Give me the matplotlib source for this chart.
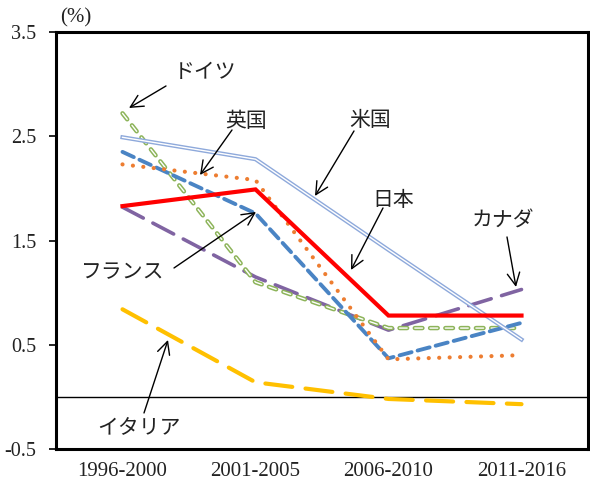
import matplotlib
matplotlib.use("Agg")
import matplotlib.pyplot as plt
import matplotlib.patheffects as pe

# data
periods = ["1996-2000", "2001-2005", "2006-2010", "2011-2016"]
japan = [1.83, 1.99, 0.78, 0.78]
usa = [2.49, 2.28, 1.41, 0.55]
uk = [2.23, 2.08, 0.36, 0.40]
germany = [2.72, 1.10, 0.66, 0.66]
france = [2.35, 1.76, 0.37, 0.71]
canada = [1.82, 1.15, 0.64, 1.03]
italy = [0.84, 0.14, -0.02, -0.07]
yticks = [-0.5, 0.5, 1.5, 2.5, 3.5]

JP = ["Noto Sans CJK JP", "DejaVu Sans"]
SERIF = ["Liberation Serif", "DejaVu Serif"]


def px(x, y):
    # pixel position in the 590x480 picture -> data coords
    return ((x - 56) / 133.0 - 0.5, (396.9 - y) / 104.25)


def main():
    fig = plt.figure(figsize=(5.9, 4.8), dpi=100)
    ax = fig.add_axes([56 / 590, 31 / 480, 532 / 590, 417 / 480])
    xs = list(range(len(periods)))

    ax.axhline(0, color="black", lw=1.0, zorder=1)

    # Italy - long yellow dashes
    ax.plot(xs, italy, color="#FFC000", lw=3.0, ls=(0, (6.5, 3.2)),
            dash_capstyle="round", zorder=2)
    # Canada - purple long dash
    ax.plot(xs, canada, color="#8064A2", lw=2.6, ls=(0, (6.5, 3.0)),
            dash_capstyle="round", zorder=3)
    # Germany - hollow green dashes
    ax.plot(xs, germany, color="white", lw=1.0, ls=(0, (5.5, 5.5)),
            dash_capstyle="round", zorder=4,
            path_effects=[pe.Stroke(linewidth=3.2, foreground="#8DB45A"),
                          pe.Normal()])
    # France - blue dashes
    ax.plot(xs, france, color="#4A84C4", lw=2.8, ls=(0, (3.2, 1.6)),
            dash_capstyle="round", zorder=5)
    # UK - orange dots
    ax.plot(xs, uk, color="#ED7D31", lw=3.0, ls=(0, (0.01, 2.5)),
            dash_capstyle="round", zorder=6)
    # USA - double line
    ax.plot(xs, usa, color="white", lw=1.0, zorder=7,
            path_effects=[pe.Stroke(linewidth=3.0, foreground="#8EA9DB"),
                          pe.Normal()])
    # Japan - solid red
    ax.plot(xs, japan, color="#FF0000", lw=3.0, solid_joinstyle="miter",
            zorder=8)

    ax.set_xlim(-0.5, 3.5)
    ax.set_ylim(-0.5, 3.5)
    ax.set_xticks(xs)
    ax.set_xticklabels(periods, fontsize=15, family=SERIF, color="#222222")
    ax.set_yticks(yticks)
    ax.set_yticklabels([str(v) for v in yticks], fontsize=14.5, family=SERIF,
                       color="#222222")
    ax.tick_params(axis="x", length=0, pad=9)
    ax.tick_params(axis="y", length=5, width=1.2, direction="out", pad=9)
    for s in ax.spines.values():
        s.set_linewidth(2.2)
        s.set_color("black")

    fig.text(60 / 590, 1 - 18 / 480, "(%)", fontsize=15, family=SERIF,
             color="#222222", va="center", ha="left")

    notes = [
        ("ドイツ", (205, 72), (166, 86), (129, 108)),
        ("英国", (246, 121), (232, 130), (200, 175)),
        ("米国", (370, 120), (354, 131), (315, 196)),
        ("日本", (393, 200), (383, 208), (351, 270)),
        ("カナダ", (503, 221), (507, 237), (516, 287)),
        ("フランス", (123, 272), (174, 268), (256, 212)),
        ("イタリア", (139, 428), (144, 413), (168, 340)),
    ]
    for label, tpos, tail, tip in notes:
        ax.text(*px(*tpos), label, fontsize=15, family=JP, color="#222222",
                ha="center", va="center", zorder=10)
        ax.annotate("", xy=px(*tip), xytext=px(*tail),
                    arrowprops=dict(arrowstyle="->,head_length=0.9,head_width=0.45",
                                    color="black", lw=1.0,
                                    shrinkA=0, shrinkB=0),
                    zorder=10)

    fig.savefig("out.png", dpi=100)


if __name__ == "__main__":
    main()
